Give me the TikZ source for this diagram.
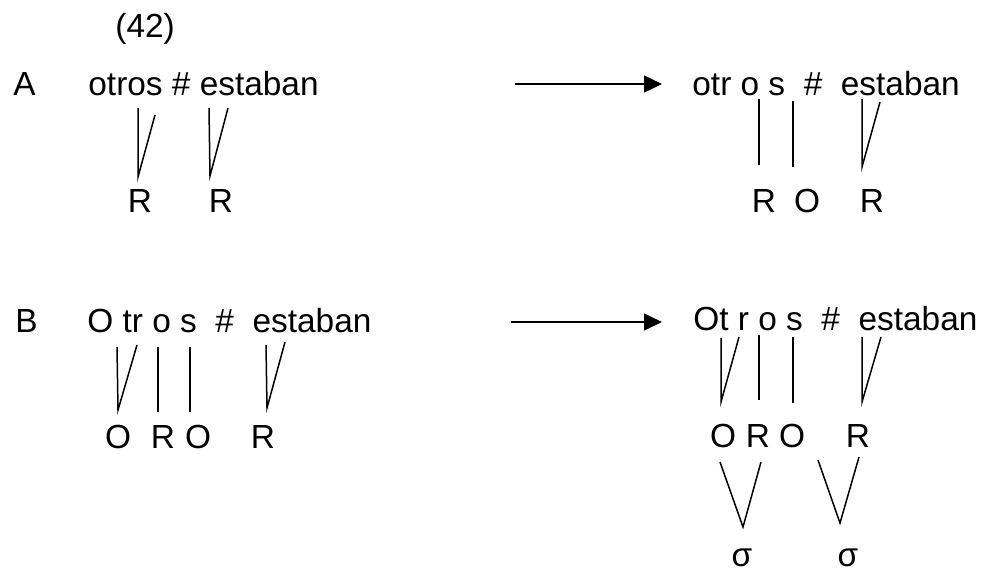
\documentclass[tikz,border=0pt]{standalone}
\usepackage{fontspec}
\setmainfont{Liberation Sans}
\usetikzlibrary{arrows.meta}
\begin{document}
\begin{tikzpicture}[x=0.5pt,y=-0.5pt,font=\fontsize{16.7}{20}\selectfont,
    every node/.style={inner sep=0pt},
    seg/.style={anchor=base west},
    lab/.style={anchor=base},
    link/.style={line width=0.75pt},
    rule/.style={line width=0.75pt,-{Triangle[length=9pt,width=8.5pt]}}]
  \useasboundingbox (0,0) rectangle (982,570);
  % strings
  \draw
    (115,37) node[seg] (num){(42)}
    (13,95) node[seg] (A){A}
    (88,95) node[seg] (A0){otros \# estaban}
    (692,95) node[seg] (A1){otr o s \ \# \ estaban}
    (15,332) node[seg] (B){B}
    (87,332) node[seg] (B0){O tr o s \ \# \ estaban}
    (693,330) node[seg] (B1){Ot r o s \ \# \ estaban};
  % labels
  \draw
    (140,212) node[lab] (a0r1){R}
    (221,212) node[lab] (a0r2){R}
    (764,212) node[lab] (a1r1){R}
    (807,212) node[lab] (a1o1){O}
    (872,212) node[lab] (a1r2){R}
    (118,448) node[lab] (b0o1){O}
    (163,448) node[lab] (b0r1){R}
    (198,448) node[lab] (b0o2){O}
    (263,448) node[lab] (b0r2){R}
    (723,447) node[lab] (b1o1){O}
    (758,447) node[lab] (b1r1){R}
    (792,447) node[lab] (b1o2){O}
    (858,447) node[lab] (b1r2){R}
    (742,566) node[lab] (s1){σ}
    (848,566) node[lab] (s2){σ};
  % line ends
  \draw
    (515,84) coordinate (fa) (662,84) coordinate (ta)
    (511,322) coordinate (fb) (662,322) coordinate (tb)
    (138,108) coordinate (p1) (155,115) coordinate (p2) (138,177) coordinate (p3)
    (209,108) coordinate (p4) (228,108) coordinate (p5) (210,176) coordinate (p6)
    (759,99) coordinate (q1) (759,165) coordinate (q2)
    (793,101) coordinate (q3) (793,167) coordinate (q4)
    (862,99) coordinate (q5) (880,102) coordinate (q6) (862,167) coordinate (q7)
    (117,347) coordinate (u1) (137,345) coordinate (u2) (118,410) coordinate (u3)
    (158,347) coordinate (u4) (158,412) coordinate (u5)
    (190,347) coordinate (u6) (190,412) coordinate (u7)
    (266,345) coordinate (u8) (285,342) coordinate (u9) (267,408) coordinate (u10)
    (721,338) coordinate (v1) (739,337) coordinate (v2) (721,402) coordinate (v3)
    (759,335) coordinate (v4) (759,400) coordinate (v5)
    (793,337) coordinate (v6) (793,403) coordinate (v7)
    (862,337) coordinate (v8) (881,337) coordinate (v9) (862,402) coordinate (v10)
    (720,462) coordinate (w1) (743,527) coordinate (w2) (761,462) coordinate (w3)
    (818,460) coordinate (w4) (840,523) coordinate (w5) (859,457) coordinate (w6);
  \draw[rule] (fa) to (ta);
  \draw[rule] (fb) to (tb);
  \begin{scope}[link]
    \draw (p1) to (p3) to (p2);
    \draw (p4) to (p6) to (p5);
    \draw (q1) to (q2);
    \draw (q3) to (q4);
    \draw (q5) to (q7) to (q6);
    \draw (u1) to (u3) to (u2);
    \draw (u4) to (u5);
    \draw (u6) to (u7);
    \draw (u8) to (u10) to (u9);
    \draw (v1) to (v3) to (v2);
    \draw (v4) to (v5);
    \draw (v6) to (v7);
    \draw (v8) to (v10) to (v9);
    \draw (w1) to (w2) to (w3);
    \draw (w4) to (w5) to (w6);
  \end{scope}
\end{tikzpicture}
\end{document}
